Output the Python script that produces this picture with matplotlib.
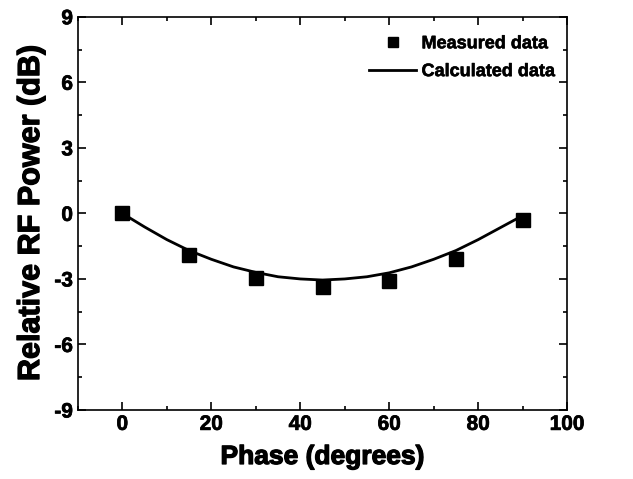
import matplotlib
matplotlib.use("Agg")
import matplotlib.pyplot as plt
import matplotlib.patheffects as pe
from matplotlib.ticker import MultipleLocator

# measured points
phase_meas = [0, 15, 30, 45, 60, 75, 90]
power_meas = [0.0, -1.9, -2.95, -3.35, -3.08, -2.1, -0.3]

# calculated curve
phase_calc = [0, 5, 10, 15, 20, 25, 30, 35, 40, 45, 50, 55, 60, 65, 70, 75, 80, 85, 90]
power_calc = [0.0, -0.62, -1.2, -1.7, -2.1, -2.45, -2.7, -2.9, -3.0, -3.05,
              -3.0, -2.9, -2.72, -2.45, -2.1, -1.7, -1.2, -0.65, -0.1]

plt.rcParams['font.family'] = ['Liberation Sans', 'DejaVu Sans']
plt.rcParams['font.weight'] = 'bold'
plt.rcParams['axes.unicode_minus'] = False

fig = plt.figure(figsize=(6.33, 4.79), dpi=100)
ax = fig.add_axes([0.123, 0.144, 0.773, 0.821])

ax.plot(phase_meas, power_meas, 's', color='black', markersize=10, label='Measured data', zorder=3)
ax.plot(phase_calc, power_calc, '-', color='black', linewidth=2, label='Calculated data')

ax.set_xlim(-10, 100)
ax.set_ylim(-9, 9)
ax.xaxis.set_major_locator(MultipleLocator(20))
ax.xaxis.set_minor_locator(MultipleLocator(10))
ax.yaxis.set_major_locator(MultipleLocator(3))
ax.yaxis.set_minor_locator(MultipleLocator(1.5))
ax.tick_params(which='both', direction='in', top=True, right=True, labelsize=15, width=1.2)
ax.tick_params(which='major', length=6)
ax.tick_params(which='minor', length=3)
for s in ax.spines.values():
    s.set_linewidth(1.2)

fat = [pe.withStroke(linewidth=0.9, foreground='black')]
ax.set_xlabel('Phase (degrees)', fontsize=19, fontweight='bold', path_effects=fat, labelpad=8)
ax.set_ylabel('Relative RF Power (dB)', fontsize=22, fontweight='bold', path_effects=fat, labelpad=6)
for t in ax.get_xticklabels() + ax.get_yticklabels():
    t.set_path_effects([pe.withStroke(linewidth=0.5, foreground='black')])

leg = ax.legend(loc='upper right', bbox_to_anchor=(1.0, 0.985), frameon=False, fontsize=13,
                handlelength=2.6, markerscale=0.7, borderaxespad=0.3, handletextpad=0.3,
                labelspacing=0.6)
for t in leg.get_texts():
    t.set_path_effects([pe.withStroke(linewidth=0.4, foreground='black')])

fig.savefig('out.png', dpi=100)
